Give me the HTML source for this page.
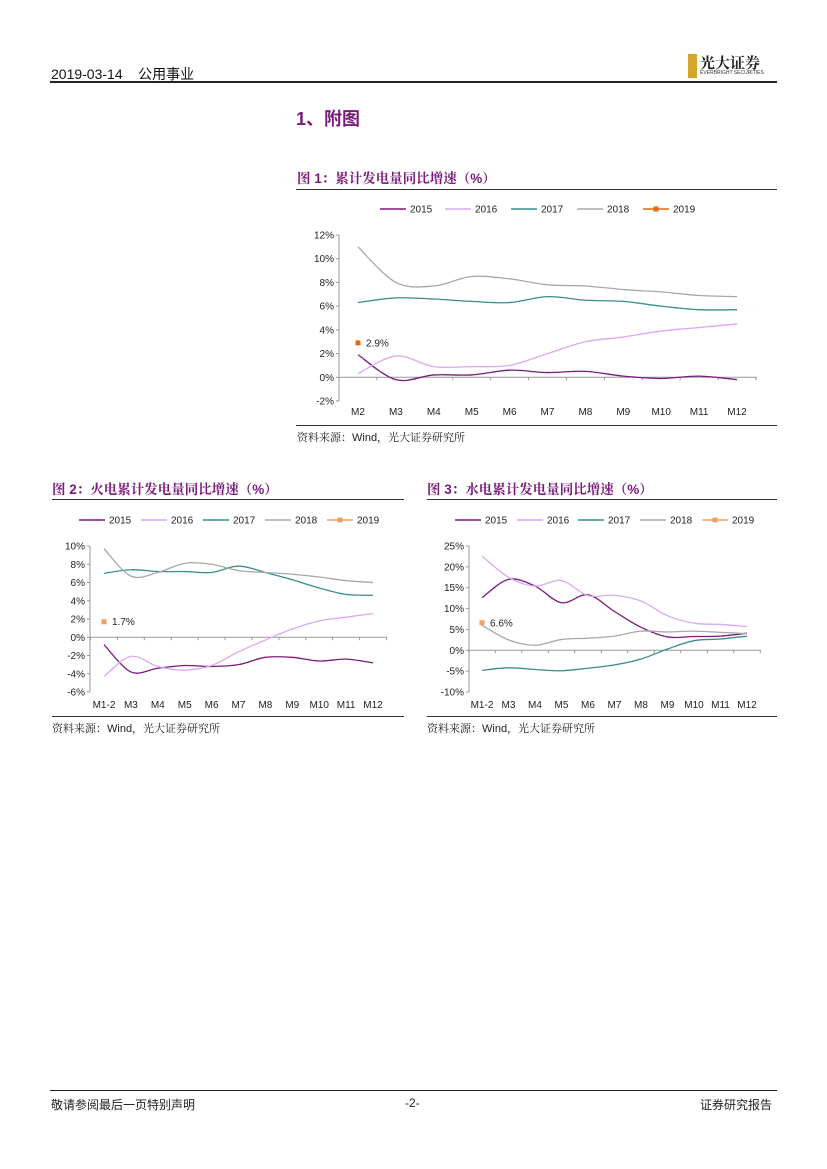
<!DOCTYPE html>
<html><head><meta charset="utf-8">
<style>
body{margin:0;width:827px;height:1169px;background:#fff;position:relative;font-family:"Liberation Sans","Noto Sans CJK SC",sans-serif;overflow:hidden}
.a{position:absolute;white-space:nowrap}
.t{color:#7a1a7a;font-weight:bold;font-size:13.5px;font-family:"Liberation Sans","Noto Serif CJK SC",serif}
.src{font-size:11px;color:#222;font-family:"Liberation Sans","Noto Serif CJK SC",serif}
svg text{font-family:"Liberation Sans",sans-serif;font-size:10px;fill:#222}
</style></head><body>
<div class="a" style="left:51px;top:64px;font-size:14px;color:#111">2019-03-14&nbsp;&nbsp;&nbsp;&nbsp;公用事业</div>
<div class="a" style="left:688px;top:54px;width:90px;height:24px">
 <div style="position:absolute;left:0;top:0;width:9px;height:24px;background:#d4a72c"></div>
 <div style="position:absolute;left:12px;top:-2px;font-size:15px;font-weight:bold;color:#222;font-family:'Noto Serif CJK SC',serif">光大证券</div>
 <div style="position:absolute;left:12px;top:16px;font-size:5px;color:#333">EVERBRIGHT SECURITIES</div>
</div>
<div class="a" style="left:50px;top:81px;width:727px;height:2px;background:#222"></div>
<div class="a" style="left:296px;top:105px;font-size:18px;font-weight:bold;color:#7a1a7a">1、附图</div>

<div class="a t" style="left:297px;top:167px">图 1：累计发电量同比增速（%）</div>
<div class="a" style="left:296px;top:189px;width:481px;height:1px;background:#333"></div>
<div class="a" style="left:296px;top:425px;width:481px;height:1px;background:#333"></div>
<div class="a src" style="left:297px;top:429px">资料来源：Wind，光大证券研究所</div>

<div class="a t" style="left:52px;top:478px">图 2：火电累计发电量同比增速（%）</div>
<div class="a" style="left:52px;top:499px;width:352px;height:1px;background:#333"></div>
<div class="a" style="left:52px;top:716px;width:352px;height:1px;background:#333"></div>
<div class="a src" style="left:52px;top:720px">资料来源：Wind，光大证券研究所</div>

<div class="a t" style="left:427px;top:478px">图 3：水电累计发电量同比增速（%）</div>
<div class="a" style="left:427px;top:499px;width:350px;height:1px;background:#333"></div>
<div class="a" style="left:427px;top:716px;width:350px;height:1px;background:#333"></div>
<div class="a src" style="left:427px;top:720px">资料来源：Wind，光大证券研究所</div>

<div class="a" style="left:50px;top:1090px;width:727px;height:1px;background:#222"></div>
<div class="a" style="left:51px;top:1096px;font-size:12px;color:#222">敬请参阅最后一页特别声明</div>
<div class="a" style="left:405px;top:1096px;font-size:12px;color:#222">-2-</div>
<div class="a" style="left:700px;top:1096px;font-size:12px;color:#222">证券研究报告</div>

<svg id="svg" width="827" height="1169" style="position:absolute;left:0;top:0"></svg>
<script>
const years=["2015","2016","2017","2018","2019"];
const colors=["#7b1a7b","#d9a8f0","#3a8c8c","#a8a8a8","#e87722"];
const cats1=["M2","M3","M4","M5","M6","M7","M8","M9","M10","M11","M12"];
const c1_2015=[1.9,-0.2,0.2,0.2,0.6,0.4,0.5,0.1,-0.1,0.1,-0.2];
const c1_2016=[0.3,1.8,0.9,0.9,1.0,2.0,3.0,3.4,3.9,4.2,4.5];
const c1_2017=[6.3,6.7,6.6,6.4,6.3,6.8,6.5,6.4,6.0,5.7,5.7];
const c1_2018=[11.0,8.0,7.7,8.5,8.3,7.8,7.7,7.4,7.2,6.9,6.8];
const c1_2019=[2.9];
const ticks1=[12,10,8,6,4,2,0,-2];
const cats2=["M1-2","M3","M4","M5","M6","M7","M8","M9","M10","M11","M12"];
const c2_2015=[-0.8,-3.8,-3.4,-3.1,-3.2,-3.0,-2.2,-2.2,-2.6,-2.4,-2.8];
const c2_2016=[-4.3,-2.1,-3.2,-3.6,-3.1,-1.6,-0.3,0.9,1.8,2.2,2.6];
const c2_2017=[7.0,7.4,7.2,7.2,7.1,7.8,7.1,6.3,5.4,4.7,4.6];
const c2_2018=[9.7,6.7,7.1,8.1,8.0,7.3,7.1,6.9,6.6,6.2,6.0];
const c2_2019=[1.7];
const ticks2=[10,8,6,4,2,0,-2,-4,-6];
const cats3=["M1-2","M3","M4","M5","M6","M7","M8","M9","M10","M11","M12"];
const c3_2015=[12.6,17.0,15.4,11.4,13.3,9.3,5.5,3.2,3.3,3.4,4.1];
const c3_2016=[22.6,17.5,15.4,16.7,13.1,13.2,11.8,8.3,6.5,6.2,5.7];
const c3_2017=[-4.8,-4.2,-4.6,-4.9,-4.3,-3.5,-2.1,0.3,2.3,2.7,3.4];
const c3_2018=[6.0,2.5,1.2,2.6,2.9,3.4,4.6,4.4,4.6,4.3,4.0];
const c3_2019=[6.6];
const ticks3=[25,20,15,10,5,0,-5,-10];

const NS="http://www.w3.org/2000/svg";
const svg=document.getElementById('svg');
function mk(t,a,p){const e=document.createElementNS(NS,t);for(const k in a)e.setAttribute(k,a[k]);(p||svg).appendChild(e);return e;}
function smooth(pts){let d="M"+pts[0][0]+","+pts[0][1];for(let i=0;i<pts.length-1;i++){const p0=pts[i-1]||pts[i],p1=pts[i],p2=pts[i+1],p3=pts[i+2]||p2;const t=6;d+=" C"+(p1[0]+(p2[0]-p0[0])/t)+","+(p1[1]+(p2[1]-p0[1])/t)+" "+(p2[0]-(p3[0]-p1[0])/t)+","+(p2[1]-(p3[1]-p1[1])/t)+" "+p2[0]+","+p2[1];}return d;}
function chart(cfg){
 const g=mk('g',{});
 
 
 const tmax=cfg.ticks[0],tmin=cfg.ticks[cfg.ticks.length-1];
 const y=v=>cfg.yTop+(tmax-v)/(tmax-tmin)*(cfg.yBot-cfg.yTop);
 const x=i=>cfg.x0+i*(cfg.x1-cfg.x0)/(cfg.cats.length-1);
 const step=(cfg.x1-cfg.x0)/(cfg.cats.length-1);
 const ya=mk('line',{x1:cfg.ax,x2:cfg.ax,y1:cfg.yTop,y2:cfg.yBot,stroke:'#999','stroke-width':1},g);
 
 
 cfg.ticks.forEach(v=>{
  mk('line',{x1:cfg.ax-3,x2:cfg.ax,y1:y(v),y2:y(v),stroke:'#999'},g);
  const t=mk('text',{x:cfg.ax-5,y:y(v)+3.5,'text-anchor':'end'},g);t.textContent=v+'%';
  
  
 });
 const xa=mk('line',{x1:cfg.ax,x2:cfg.xEnd,y1:y(0),y2:y(0),stroke:'#999'},g);
 
 
 for(let i=0;i<=cfg.cats.length;i++){const xx=x(i)-step/2;mk('line',{x1:xx,x2:xx,y1:y(0),y2:y(0)+3,stroke:'#999'},g);}
 cfg.cats.forEach((c,i)=>{const t=mk('text',{x:x(i),y:cfg.labY,'text-anchor':'middle'},g);t.textContent=c;
  
  });
 cfg.series.slice(0,4).forEach((s,k)=>{
  const p=mk('path',{d:smooth(s.map((v,i)=>[x(i),y(v)])),fill:'none',stroke:colors[k],'stroke-width':1.3},g);
  
  
 });
 const v19=cfg.series[4][0];
 const m=mk('rect',{x:x(0)-2.5,y:y(v19)-2.5,width:5,height:5,fill:cfg.c19},g);
 
 
 const lt=mk('text',{x:x(0)+8,y:y(v19)+3.5,fill:cfg.labC},g);lt.textContent=v19.toFixed(1)+'%';
 
 
 cfg.leg.forEach((lx,k)=>{
  const lg=mk('g',{},g);
  
  
  mk('line',{x1:lx,x2:lx+26,y1:cfg.legY,y2:cfg.legY,stroke:k==4?cfg.c19:colors[k],'stroke-width':1.5},lg);
  if(k==4)mk('rect',{x:lx+10.5,y:cfg.legY-2.5,width:5,height:5,fill:cfg.c19},lg);
  const t=mk('text',{x:lx+30,y:cfg.legY+3.5},lg);t.textContent=years[k];
 });
}
chart({name:'chart-total-generation',cats:cats1,series:[c1_2015,c1_2016,c1_2017,c1_2018,c1_2019],ticks:ticks1,
 ax:339,x0:358,x1:737,xEnd:757,yTop:235,yBot:401,labY:415,legY:209,leg:[380,445,511,577,643],c19:'#e06a10',labC:'#e0202a'});
chart({name:'chart-thermal-generation',cats:cats2,series:[c2_2015,c2_2016,c2_2017,c2_2018,c2_2019],ticks:ticks2,
 ax:90,x0:104,x1:373,xEnd:387,yTop:546,yBot:692,labY:708,legY:520,leg:[79,141,203,265,327],c19:'#f0a060',labC:'#f0a060'});
chart({name:'chart-hydro-generation',cats:cats3,series:[c3_2015,c3_2016,c3_2017,c3_2018,c3_2019],ticks:ticks3,
 ax:469,x0:482,x1:747,xEnd:761,yTop:546,yBot:692,labY:708,legY:520,leg:[455,517,578,640,702],c19:'#f0a060',labC:'#f0a060'});
</script>
</body></html>
